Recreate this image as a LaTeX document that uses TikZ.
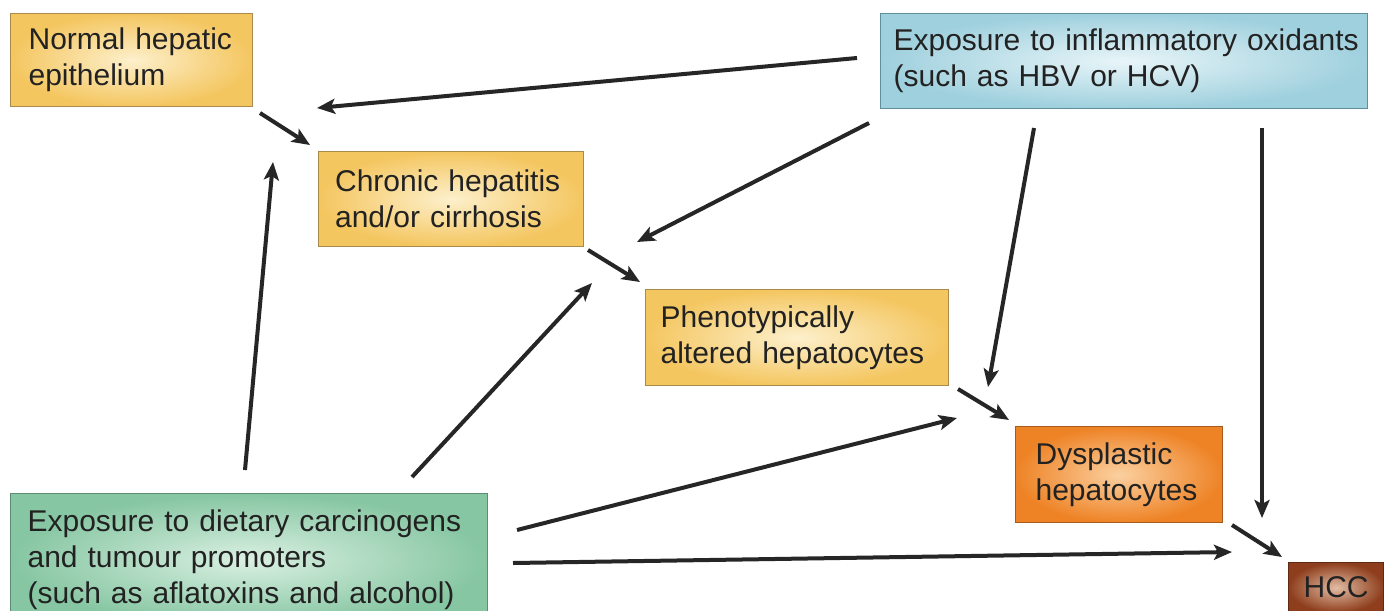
\documentclass[tikz,border=0pt]{standalone}
\usepackage{fontspec}
\setmainfont{Liberation Sans}
\usetikzlibrary{arrows.meta}
\definecolor{yelout}{HTML}{F4C660}
\definecolor{yelin}{HTML}{FDF0CC}
\definecolor{yelbd}{HTML}{A88A4A}
\definecolor{bluout}{HTML}{9FD0DE}
\definecolor{bluin}{HTML}{E8F5F8}
\definecolor{blubd}{HTML}{5F8E9C}
\definecolor{grnout}{HTML}{86C6A2}
\definecolor{grnin}{HTML}{DAF0E2}
\definecolor{grnbd}{HTML}{5B8E72}
\definecolor{orgout}{HTML}{EE8326}
\definecolor{orgin}{HTML}{FBD0A0}
\definecolor{orgbd}{HTML}{A85A1E}
\definecolor{brnout}{HTML}{8E3E1C}
\definecolor{brnin}{HTML}{E2BCA4}
\definecolor{brnbd}{HTML}{5E2A12}
\definecolor{txt}{HTML}{222222}
\definecolor{arrcol}{HTML}{262626}
\begin{document}
\begin{tikzpicture}[x=0.5pt,y=-0.5pt,
  box/.style={anchor=north west, inner ysep=0pt, align=left, line width=0.6pt,
    font=\fontsize{15}{18}\selectfont, text=txt},
  ybox/.style={box, draw=yelbd, inner color=yelin, outer color=yelout},
  bbox/.style={box, draw=blubd, inner color=bluin, outer color=bluout},
  gbox/.style={box, draw=grnbd, inner color=grnin, outer color=grnout},
  obox/.style={box, draw=orgbd, inner color=orgin, outer color=orgout},
  hbox/.style={box, draw=brnbd, inner color=brnin, outer color=brnout},
  arr/.style={draw=arrcol, line width=2pt, -{Stealth[length=9pt,width=7.5pt,inset=2pt]}}]
\useasboundingbox (0,0) rectangle (1390,610);
\clip (0,0) rectangle (1390,610);
\fill[white] (0,0) rectangle (1390,610);

\node[ybox, text width=103pt, inner xsep=9pt, minimum height=46.5pt] (normal) at (10,13) {Normal hepatic\\epithelium};
\node[ybox, text width=116pt, inner xsep=8.25pt, minimum height=47.5pt] (chronic) at (318,151) {Chronic hepatitis\\and/or cirrhosis};
\node[ybox, text width=136.5pt, inner xsep=7.5pt, minimum height=48pt] (pheno) at (645,289) {Phenotypically\\altered hepatocytes};
\node[bbox, text width=230.5pt, inner xsep=6.5pt, minimum height=47.5pt] (inflam) at (880,13) {\mbox{Exposure to inflammatory oxidants}\\(such as HBV or HCV)};
\node[obox, text width=83.5pt, inner xsep=10pt, minimum height=48pt] (dysp) at (1015,426) {Dysplastic\\hepatocytes};
\node[gbox, text width=221.5pt, inner xsep=8.5pt, minimum height=66pt] (diet) at (10,493) {\mbox{Exposure to dietary carcinogens}\\and tumour promoters\\\mbox{(such as aflatoxins and alcohol)}};
\node[hbox, text width=47.5pt, inner xsep=0pt, align=center, minimum height=25pt] (hcc) at (1288,562) {HCC};

% arrow end points
\coordinate (a1s) at (260,113);  \coordinate (a1e) at (310,145);
\coordinate (a2s) at (857,58);   \coordinate (a2e) at (317,108);
\coordinate (a3s) at (869,123);  \coordinate (a3e) at (637,242);
\coordinate (a4s) at (588,250);  \coordinate (a4e) at (640,282);
\coordinate (a5s) at (1034,128); \coordinate (a5e) at (988,387);
\coordinate (a6s) at (1262,128); \coordinate (a6e) at (1262,518);
\coordinate (a7s) at (958,389);  \coordinate (a7e) at (1009,420);
\coordinate (a8s) at (1232,525); \coordinate (a8e) at (1282,557);
\coordinate (a9s) at (245,470);  \coordinate (a9e) at (273,162);
\coordinate (a10s) at (412,477); \coordinate (a10e) at (592,283);
\coordinate (a11s) at (517,530); \coordinate (a11e) at (957,418);
\coordinate (a12s) at (513,563); \coordinate (a12e) at (1232,552);

\draw[arr] (a1s) -- (a1e);
\draw[arr] (a2s) -- (a2e);
\draw[arr] (a3s) -- (a3e);
\draw[arr] (a4s) -- (a4e);
\draw[arr] (a5s) -- (a5e);
\draw[arr] (a6s) -- (a6e);
\draw[arr] (a7s) -- (a7e);
\draw[arr] (a8s) -- (a8e);
\draw[arr] (a9s) -- (a9e);
\draw[arr] (a10s) -- (a10e);
\draw[arr] (a11s) -- (a11e);
\draw[arr] (a12s) -- (a12e);
\end{tikzpicture}
\end{document}
